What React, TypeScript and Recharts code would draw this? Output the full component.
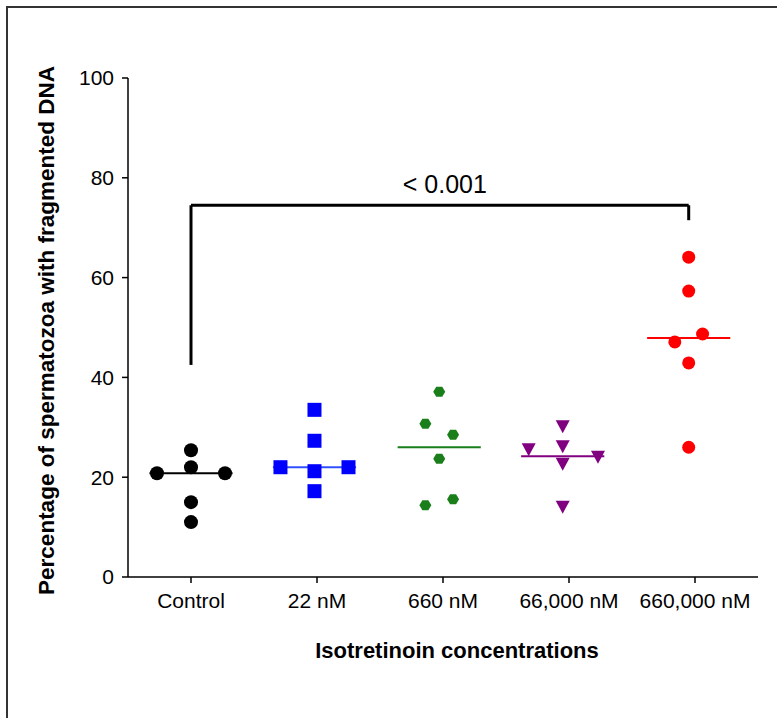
import React from 'react';
import {
  ScatterChart,
  Scatter,
  XAxis,
  YAxis,
  ReferenceLine,
} from 'recharts';

const groups = ['Control', '22 nM', '660 nM', '66,000 nM', '660,000 nM'];
const yTicks = [0, 20, 40, 60, 80, 100];

// values per group, and horizontal jitter (in category units) as drawn in the figure
const controlValues = [25.4, 22.0, 20.8, 20.8, 15.0, 11.0];
const controlJitter = [0, 0, -0.27, 0.27, 0, 0];
const nm22Values = [33.5, 27.3, 21.2, 17.2, 22.0, 22.0];
const nm22Jitter = [-0.02, -0.02, -0.02, -0.02, -0.29, 0.25];
const nm660Values = [37.1, 30.7, 28.5, 23.7, 14.4, 15.6];
const nm660Jitter = [-0.03, -0.14, 0.08, -0.03, -0.14, 0.08];
const nm66000Values = [30.1, 26.1, 25.5, 22.6, 24.0, 14.0];
const nm66000Jitter = [-0.05, -0.05, -0.32, -0.05, 0.23, -0.05];
const nm660000Values = [64.1, 57.3, 47.1, 48.7, 42.9, 26.0];
const nm660000Jitter = [-0.05, -0.05, -0.16, 0.06, -0.05, -0.05];

const medians = [20.8, 22.0, 26.0, 24.2, 47.9];
const medianShift = [0, -0.02, -0.03, -0.05, -0.05];
const colors = ['#000000', '#0000ff', '#1a7f1a', '#800080', '#ff0000'];
const lineColors = ['#000000', '#3050ff', '#1a7f1a', '#800080', '#ff0000'];

// significance bracket between Control and 660,000 nM
const bracketTop = 74.5;
const bracketLeftEnd = 42.5;
const bracketRightEnd = 71.5;
const bracketLeftX = 0;
const bracketRightX = 3.95;
const pLabel = '< 0.001';

const toPoints = (idx: number, values: number[], jitter: number[]) =>
  values.map((v, i) => ({ x: idx + jitter[i], y: v }));

const FONT = '"Liberation Sans", Arial, Helvetica, sans-serif';

const CircleShape = (fill: string, r: number) => (props: any) => (
  <circle cx={props.cx} cy={props.cy} r={r} fill={fill} />
);

const SquareShape = (props: any) => (
  <rect x={props.cx - 7} y={props.cy - 7} width={14} height={14} fill="#0000ff" />
);

const HexShape = (props: any) => {
  const { cx, cy } = props;
  const d = `M${cx - 6},${cy} L${cx - 3},${cy - 5} L${cx + 3},${cy - 5} L${cx + 6},${cy} L${cx + 3},${cy + 5} L${cx - 3},${cy + 5} Z`;
  return <path d={d} fill="#1a7f1a" />;
};

const TriDownShape = (props: any) => {
  const { cx, cy } = props;
  const d = `M${cx - 7},${cy - 6.5} L${cx + 7},${cy - 6.5} L${cx},${cy + 6.5} Z`;
  return <path d={d} fill="#800080" />;
};

export default function App() {
  const series = [
    { data: toPoints(0, controlValues, controlJitter), shape: CircleShape('#000000', 7) },
    { data: toPoints(1, nm22Values, nm22Jitter), shape: SquareShape },
    { data: toPoints(2, nm660Values, nm660Jitter), shape: HexShape },
    { data: toPoints(3, nm66000Values, nm66000Jitter), shape: TriDownShape },
    { data: toPoints(4, nm660000Values, nm660000Jitter), shape: CircleShape('#ff0000', 6.5) },
  ];

  return (
    <div style={{ position: 'absolute', left: 0, top: 0, width: 777, height: 718, fontFamily: FONT, background: '#fff' }}>
      <div
        style={{
          position: 'absolute',
          left: 6,
          top: 6,
          width: 771,
          height: 712,
          borderLeft: '2px solid #333',
          borderTop: '2px solid #333',
          boxSizing: 'border-box',
        }}
      />
      <div style={{ position: 'absolute', left: 0, top: 0 }}>
        <ScatterChart width={777} height={718} margin={{ top: 78, right: 19, bottom: 81, left: 0 }}>
          <XAxis
            type="number"
            dataKey="x"
            domain={[-0.5, 4.5]}
            ticks={[0, 1, 2, 3, 4]}
            tickFormatter={(i: number) => groups[i]}
            height={60}
            stroke="#000"
            strokeWidth={1.5}
            tickSize={6}
            tickMargin={10}
            tick={{ fontSize: 21, fill: '#000', fontFamily: FONT }}
            label={{
              value: 'Isotretinoin concentrations',
              position: 'center',
              dx: 14,
              dy: 43,
              fontSize: 22,
              fontWeight: 'bold',
              fill: '#000',
              fontFamily: FONT,
            }}
          />
          <YAxis
            type="number"
            dataKey="y"
            domain={[0, 100]}
            ticks={yTicks}
            width={128}
            stroke="#000"
            strokeWidth={1.5}
            tickSize={6}
            tickMargin={8}
            tick={{ fontSize: 21, fill: '#000', fontFamily: FONT }}
            label={{
              value: 'Percentage of spermatozoa with fragmented DNA',
              position: 'center',
              angle: -90,
              dx: -18,
              dy: 3,
              fontSize: 22.5,
              fontWeight: 'bold',
              fill: '#000',
              fontFamily: FONT,
            }}
          />
          {medians.map((m, i) => (
            <ReferenceLine
              key={`med-${i}`}
              segment={[{ x: i + medianShift[i] - 0.33, y: m }, { x: i + medianShift[i] + 0.33, y: m }]}
              stroke={lineColors[i]}
              strokeWidth={2}
            />
          ))}
          {series.map((s, i) => (
            <Scatter
              key={groups[i]}
              name={groups[i]}
              data={s.data}
              fill={colors[i]}
              shape={s.shape}
              isAnimationActive={false}
            />
          ))}
          <ReferenceLine
            segment={[{ x: bracketLeftX, y: bracketTop }, { x: bracketRightX, y: bracketTop }]}
            stroke="#000"
            strokeWidth={3}
            label={{ value: pLabel, position: 'top', offset: 12, dx: 5, fontSize: 25, fill: '#000', fontFamily: FONT }}
          />
          <ReferenceLine
            segment={[{ x: bracketLeftX, y: bracketTop }, { x: bracketLeftX, y: bracketLeftEnd }]}
            stroke="#000"
            strokeWidth={3}
          />
          <ReferenceLine
            segment={[{ x: bracketRightX, y: bracketTop }, { x: bracketRightX, y: bracketRightEnd }]}
            stroke="#000"
            strokeWidth={3}
          />
        </ScatterChart>
      </div>
    </div>
  );
}
